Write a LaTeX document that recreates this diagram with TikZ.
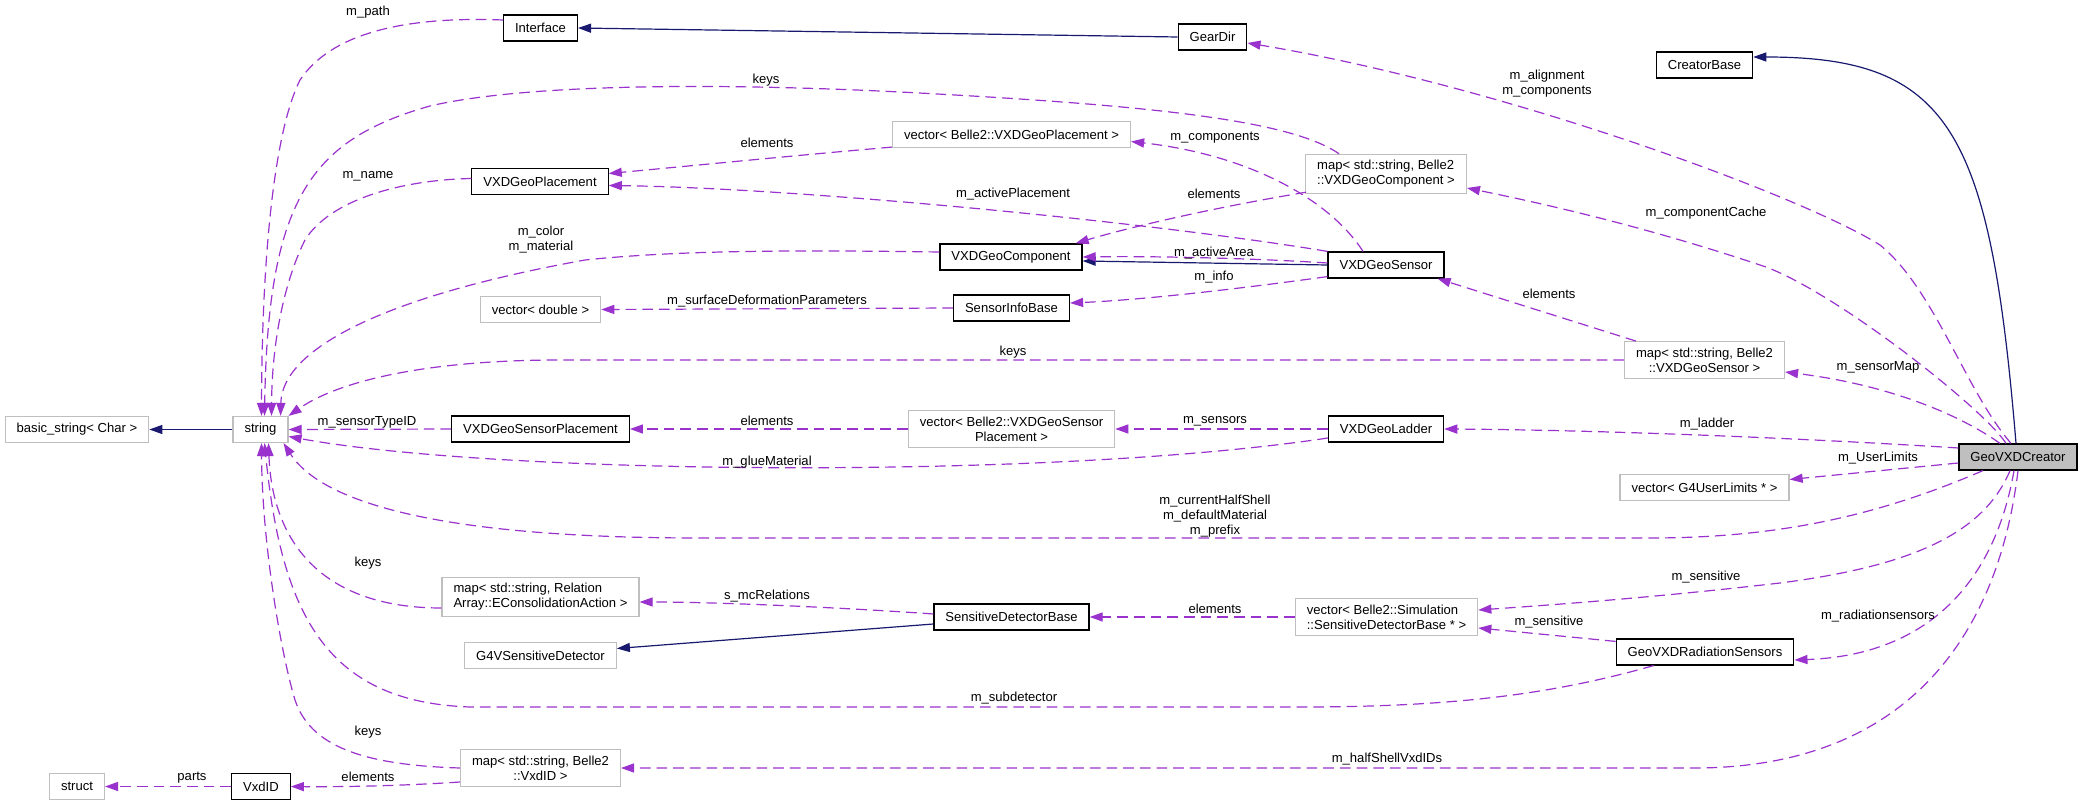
\documentclass[tikz,border=0pt]{standalone}
\usepackage{fontspec}
\setmainfont{Liberation Sans}
\usepackage{xcolor}
\usepackage{tikz}
\usetikzlibrary{arrows.meta, calc}
\definecolor{orchid}{HTML}{9A32CD}
\definecolor{midblue}{HTML}{191970}
\definecolor{grey75}{HTML}{BFBFBF}
\tikzset{
	box/.style={rectangle, font=\fontsize{9.8}{11.25}\selectfont, inner xsep=8.6pt, inner ysep=4.5pt, minimum height=19.5pt, line width=0.9pt, fill=white},
	cls/.style={box, draw=black},
	ext/.style={box, draw=grey75},
	mainnode/.style={box, draw=black, fill=grey75},
	lbl/.style={font=\fontsize{9.8}{11.25}\selectfont, inner sep=0pt, align=center},
	tip/.style={-{Triangle[length=9.8pt,width=6.8pt]}},
	use/.style={tip, draw=orchid, line width=0.9pt, dash pattern=on 8pt off 4.5pt},
	inh/.style={tip, draw=midblue, line width=0.9pt},
}

\begin{document}
\begin{tikzpicture}[x=0.75pt, y=-0.75pt]
	\path[fill=white, use as bounding box] (0,0) rectangle (2083,805);
	% Classes:
	\node[ext] (basic) at (77,429.5) {basic\_string< Char >};
	\node[ext] (str) at (260.5,429.5) {string};
	\node[ext] (strct) at (77,786.5) {struct};
	\node[cls] (vxdid) at (261,786.5) {VxdID};
	\node[cls] (iface) at (540.5,28) {Interface};
	\node[cls] (placement) at (540,181.5) {VXDGeoPlacement};
	\node[ext] (vdouble) at (540.5,309.5) {vector< double >};
	\node[cls] (sensplace) at (540.5,429) {VXDGeoSensorPlacement};
	\node[ext, align=left] (maprel) at (540.5,597) {map< std::string, Relation\\Array::EConsolidationAction >};
	\node[ext] (g4sd) at (540.5,655.5) {G4VSensitiveDetector};
	\node[ext, align=center] (mapvxdid) at (540.5,768) {map< std::string, Belle2\\::VxdID >};
	\node[ext] (vplacement) at (1011.5,134.5) {vector< Belle2::VXDGeoPlacement >};
	\node[cls] (comp) at (1011,257) {VXDGeoComponent};
	\node[cls] (sinfo) at (1011.5,308) {SensorInfoBase};
	\node[ext, align=center] (vsensplace) at (1011.5,429) {vector< Belle2::VXDGeoSensor\\Placement >};
	\node[cls] (sdb) at (1011.5,617) {SensitiveDetectorBase};
	\node[cls] (geardir) at (1212.5,37) {GearDir};
	\node[ext, align=left] (mapcomp) at (1386,174) {map< std::string, Belle2\\::VXDGeoComponent >};
	\node[cls] (sensor) at (1386,265) {VXDGeoSensor};
	\node[cls] (ladder) at (1386,429) {VXDGeoLadder};
	\node[ext, align=left] (vsdb) at (1386.5,617) {vector< Belle2::Simulation\\::SensitiveDetectorBase * >};
	\node[cls] (creatorbase) at (1704.5,65) {CreatorBase};
	\node[ext, align=center] (mapsensor) at (1704.5,360) {map< std::string, Belle2\\::VXDGeoSensor >};
	\node[ext] (vuserlim) at (1704.5,487.5) {vector< G4UserLimits * >};
	\node[cls] (radsens) at (1705,652) {GeoVXDRadiationSensors};
	\node[mainnode] (creator) at (2018,457) {GeoVXDCreator};

	% Inheritance:
	\draw[inh] (geardir.west) -- (iface.east);
	\draw[inh] ($(creator.north)+(-2,0)$) .. controls (1990,130) and (1950,57) .. ($(creatorbase.east)+(0,-8)$);
	\draw[inh] (str.west) -- (basic.east);
	\draw[inh] (sensor.west) -- ($(comp.east)+(0,4)$);
	\draw[inh] ($(sdb.west)+(0,7)$) -- ($(g4sd.east)+(0,-7)$);

	% Usage towards string:
	\draw[use] ($(iface.west)+(0,-8)$) .. controls (400,16) and (330,35) .. (300,80) .. controls (275,130) and (262,250) .. ($(str.north)+(1,0)$);
	\draw[use] ($(mapcomp.north west)+(34,0)$) .. controls (1290,120) and (1150,105) .. (900,92) .. controls (700,82) and (520,85) .. (430,106) .. controls (310,140) and (268,200) .. ($(str.north)+(4,0)$);
	\draw[use] ($(placement.west)+(0,-3)$) .. controls (400,180) and (330,200) .. (305,240) .. controls (285,280) and (272,340) .. ($(str.north)+(11,0)$);
	\draw[use] ($(comp.west)+(0,-5)$) .. controls (800,250) and (680,250) .. (585,260) .. controls (380,297) and (282,350) .. ($(str.north east)+(-8,0)$);
	\draw[use] (mapsensor.west) -- (560,360) .. controls (430,360) and (340,380) .. (str.north east);
	\draw[use] (sensplace.west) -- (str.east);
	\draw[use] ($(ladder.west)+(0,9)$) .. controls (1050,480) and (500,475) .. ($(str.east)+(0,7)$);
	\draw[use] ($(creator.south)+(-35,0)$) .. controls (1880,515) and (1780,538) .. (1650,538) -- (700,538) .. controls (430,538) and (320,500) .. ($(str.south east)+(-5,0)$);
	\draw[use] ($(maprel.west)+(0,11)$) .. controls (320,608) and (272,540) .. ($(str.south)+(8,0)$);
	\draw[use] ($(radsens.south west)+(38,0)$) .. controls (1550,695) and (1450,707) .. (1300,707) -- (470,707) .. controls (330,702) and (282,620) .. ($(str.south)+(4,0)$);
	\draw[use] (mapvxdid.west) .. controls (360,765) and (310,745) .. (295,700) .. controls (280,650) and (262,540) .. ($(str.south)+(1,0)$);

	% Usage, other members:
	\draw[use] ($(creator.north)+(-7,0)$) .. controls (1965,390) and (1935,290) .. (1880,245) .. controls (1800,195) and (1500,85) .. ($(geardir.east)+(0,6)$);
	\draw[use] ($(vplacement.south west)+(0,-1)$) .. controls (800,155) and (700,165) .. ($(placement.east)+(0,-8)$);
	\draw[use] (sensor.north west) .. controls (1150,222) and (800,188) .. ($(placement.east)+(0,4)$);
	\draw[use] ($(sensor.north)+(-23,0)$) .. controls (1330,200) and (1250,155) .. ($(vplacement.east)+(0,7)$);
	\draw[use] ($(creator.north)+(-12,0)$) .. controls (1985,410) and (1840,295) .. (1766,267) .. controls (1650,228) and (1550,205) .. ($(mapcomp.east)+(0,14)$);
	\draw[use] ($(mapcomp.south west)+(1,-2)$) .. controls (1200,210) and (1120,230) .. ($(comp.north east)+(-7,0)$);
	\draw[use] ($(sensor.west)+(0,-2)$) .. controls (1250,258) and (1150,256) .. (comp.east);
	\draw[use] ($(sensor.south west)+(0,-2)$) .. controls (1230,290) and (1140,300) .. ($(sinfo.east)+(0,-5)$);
	\draw[use] (sinfo.west) -- (vdouble.east);
	\draw[use] ($(mapsensor.north west)+(12,0)$) -- ($(sensor.south east)+(-7,0)$);
	\draw[use] ($(creator.north)+(-18,0)$) .. controls (1960,415) and (1890,385) .. ($(mapsensor.east)+(0,12)$);
	\draw[use] (vsensplace.west) -- (sensplace.east);
	\draw[use] (ladder.west) -- (vsensplace.east);
	\draw[use] ($(creator.west)+(0,-9)$) .. controls (1800,438) and (1600,430) .. (ladder.east);
	\draw[use] ($(creator.west)+(0,6)$) -- ($(vuserlim.east)+(0,-8)$);
	\draw[use] ($(creator.south)+(-8,0)$) .. controls (1985,530) and (1920,565) .. (1780,583) .. controls (1650,598) and (1550,605) .. ($(vsdb.east)+(0,-7)$);
	\draw[use] ($(radsens.north west)+(0,3)$) -- ($(vsdb.east)+(0,11)$);
	\draw[use] ($(creator.south)+(-4,0)$) .. controls (1995,580) and (1930,655) .. ($(radsens.east)+(0,8)$);
	\draw[use] (creator.south) .. controls (2000,620) and (1920,765) .. (1700,768) -- (mapvxdid.east);
	\draw[use] ($(sdb.west)+(0,-3)$) .. controls (850,608) and (720,602) .. ($(maprel.east)+(0,5)$);
	\draw[use] (vsdb.west) -- (sdb.east);
	\draw[use] ($(mapvxdid.west)+(0,14)$) .. controls (400,786) and (340,787) .. (vxdid.east);
	\draw[use] (vxdid.west) -- (strct.east);

	% Member labels:
	\node[lbl] (lPath) at (368,12) {m\_path};
	\node[lbl] (lKeysComp) at (766,80) {keys};
	\node[lbl] (lElemPlace) at (767,143) {elements};
	\node[lbl] (lComponents) at (1215,138) {m\_components};
	\node[lbl] (lName) at (368,176) {m\_name};
	\node[lbl] (lActivePlace) at (1013,194) {m\_activePlacement};
	\node[lbl] (lElemComp) at (1214,194) {elements};
	\node[lbl] (lColor) at (541,240) {m\_color\\m\_material};
	\node[lbl] (lActiveArea) at (1214,253) {m\_activeArea};
	\node[lbl] (lInfo) at (1214,277) {m\_info};
	\node[lbl] (lSurface) at (767,301) {m\_surfaceDeformationParameters};
	\node[lbl] (lElemSensor) at (1549,294) {elements};
	\node[lbl] (lKeysSensor) at (1013,352) {keys};
	\node[lbl] (lSensorMap) at (1878,367) {m\_sensorMap};
	\node[lbl] (lTypeID) at (367,422) {m\_sensorTypeID};
	\node[lbl] (lElemSensPlace) at (767,421) {elements};
	\node[lbl] (lSensors) at (1215,421) {m\_sensors};
	\node[lbl] (lLadder) at (1707,424) {m\_ladder};
	\node[lbl] (lUserLimits) at (1878,458) {m\_UserLimits};
	\node[lbl] (lGlue) at (767,462) {m\_glueMaterial};
	\node[lbl] (lHalfShell) at (1215,516) {m\_currentHalfShell\\m\_defaultMaterial\\m\_prefix};
	\node[lbl] (lKeysRel) at (368,563) {keys};
	\node[lbl] (lMcRel) at (767,596) {s\_mcRelations};
	\node[lbl] (lElemSdb) at (1215,609) {elements};
	\node[lbl] (lSensitiveA) at (1706,577) {m\_sensitive};
	\node[lbl] (lSensitiveB) at (1549,622) {m\_sensitive};
	\node[lbl] (lRadiation) at (1878,616) {m\_radiationsensors};
	\node[lbl] (lSubdet) at (1014,698) {m\_subdetector};
	\node[lbl] (lKeysVxd) at (368,732) {keys};
	\node[lbl] (lElemVxd) at (368,777) {elements};
	\node[lbl] (lParts) at (192,778) {parts};
	\node[lbl] (lHalfShellIDs) at (1387,759) {m\_halfShellVxdIDs};
	\node[lbl] (lAlignment) at (1547,84) {m\_alignment\\m\_components};
	\node[lbl] (lCache) at (1706,213) {m\_componentCache};
\end{tikzpicture}
\end{document}
